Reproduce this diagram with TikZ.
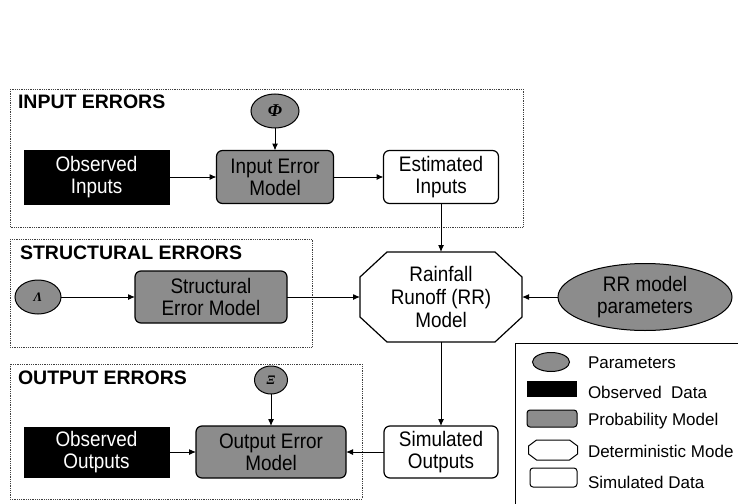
\documentclass[tikz,border=0pt]{standalone}
\usepackage{fontspec}
\setmainfont{Liberation Sans}
\newfontfamily\lblfont{Liberation Sans}[FakeStretch=0.9]
\newfontfamily\grk{Liberation Serif}
\usetikzlibrary{shapes.geometric,arrows.meta}
\definecolor{pgray}{RGB}{140,140,140}
\begin{document}
\begin{tikzpicture}[x=1pt,y=-1pt,
  every node/.style={outer sep=0pt, inner sep=0pt, align=center},
  lbl/.style={font=\lblfont\fontsize{21}{22}\selectfont},
  obsbox/.style={lbl, fill=black, text=white, draw=black, line width=1pt},
  probbox/.style={lbl, fill=pgray, draw=black, line width=1.2pt, rounded corners=6pt},
  simbox/.style={lbl, fill=white, draw=black, line width=1.2pt, rounded corners=6pt},
  parell/.style={ellipse, fill=pgray, draw=black, line width=1pt},
  errframe/.style={draw=black!75, line width=0.9pt, dash pattern=on 0.9pt off 0.9pt},
  ttl/.style={font=\fontsize{19.5}{22}\selectfont\bfseries, anchor=base west},
  arr/.style={-{Latex[length=7pt,width=6pt]}, line width=1pt},
  leg/.style={font=\fontsize{17}{18}\selectfont, anchor=west},
  octline/.style={draw=black, line width=1.2pt, fill=white}
]
\useasboundingbox (0,0) rectangle (738,503);
\clip (0,0) rectangle (738,503);
\fill[white] (0,0) rectangle (738,503);

% frames
\draw[errframe] (10,89) rectangle (523,227);
\draw[errframe] (10,239) rectangle (312,347);
\draw[errframe] (10,364) rectangle (362,499);
\node[ttl] (t1) at (18,108) {INPUT ERRORS};
\node[ttl] (t2) at (20,259) {STRUCTURAL ERRORS};
\node[ttl] (t3) at (18,384) {OUTPUT ERRORS};

% input errors
\node[obsbox, minimum width=145pt, minimum height=54pt] (obsin) at (96.5,177) {Observed\\Inputs};
\node[probbox, minimum width=117pt, minimum height=53pt] (iem) at (275,177) {Input Error\\Model};
\node[simbox, minimum width=115pt, minimum height=53pt] (estin) at (441,177) {Estimated\\Inputs};
\node[parell, minimum width=48pt, minimum height=34pt] (phi) at (275,111) {\grk\bfseries\itshape\fontsize{18}{18}\selectfont Φ};

% structural errors
\node[parell, minimum width=46pt, minimum height=34pt] (lam) at (38,297) {\grk\bfseries\itshape\fontsize{13}{13}\selectfont Λ};
\node[probbox, minimum width=152pt, minimum height=52pt] (sem) at (211,297) {Structural\\Error Model};

% RR model (octagon)
\node[minimum width=162pt, minimum height=90pt] (rrbg) at (441,297) {};
\path[octline] ([xshift=27pt]rrbg.north west) -- ([xshift=-27pt]rrbg.north east)
  -- ([yshift=-25pt]rrbg.north east) -- ([yshift=25pt]rrbg.south east)
  -- ([xshift=-27pt]rrbg.south east) -- ([xshift=27pt]rrbg.south west)
  -- ([yshift=25pt]rrbg.south west) -- ([yshift=-25pt]rrbg.north west) -- cycle;
\node[lbl, font=\lblfont\fontsize{21}{23}\selectfont, minimum width=162pt, minimum height=90pt] (rr) at (441,297) {Rainfall\\Runoff (RR)\\Model};
\node[parell, lbl, minimum width=174pt, minimum height=67pt] (rrp) at (645,297) {RR model\\parameters};

% output errors
\node[parell, minimum width=33pt, minimum height=28pt] (xi) at (271,380) {\grk\bfseries\itshape\fontsize{13}{13}\selectfont Ξ};
\node[obsbox, minimum width=145pt, minimum height=50pt] (obsout) at (96.5,452) {Observed\\Outputs};
\node[probbox, minimum width=150pt, minimum height=52pt] (oem) at (271,452) {Output Error\\Model};
\node[simbox, minimum width=114pt, minimum height=52pt] (simout) at (441,452) {Simulated\\Outputs};

% connectors
\draw[arr] (obsin.east) -- (obsin.east -| iem.west);
\draw[arr] (phi.south) -- (phi.south |- iem.north);
\draw[arr] (iem.east) -- (iem.east -| estin.west);
\draw[arr] (estin.south) -- (estin.south |- rr.north);
\draw[arr] (lam.east) -- (lam.east -| sem.west);
\draw[arr] (sem.east) -- (sem.east -| rr.west);
\draw[arr] (rrp.west) -- (rrp.west -| rr.east);
\draw[arr] (rr.south) -- (rr.south |- simout.north);
\draw[arr] (simout.west) -- (simout.west -| oem.east);
\draw[arr] (obsout.east) -- (obsout.east -| oem.west);
\draw[arr] (xi.south) -- (xi.south |- oem.north);

% legend
\draw[line width=1pt] (515,343) rectangle (760,520);
\node[parell, minimum width=37pt, minimum height=19pt] (lg1) at (551,362) {};
\node[fill=black, minimum width=50pt, minimum height=16pt] (lg2) at (552,389) {};
\node[fill=pgray, draw=black, line width=1pt, rounded corners=3pt, minimum width=50pt, minimum height=17pt] (lg3) at (552,418.5) {};
\node[minimum width=49pt, minimum height=20pt] (lg4) at (553,450) {};
\path[draw=black, line width=1pt, fill=white] ([xshift=8pt]lg4.north west) -- ([xshift=-8pt]lg4.north east)
  -- ([yshift=-6pt]lg4.north east) -- ([yshift=6pt]lg4.south east)
  -- ([xshift=-8pt]lg4.south east) -- ([xshift=8pt]lg4.south west)
  -- ([yshift=6pt]lg4.south west) -- ([yshift=-6pt]lg4.north west) -- cycle;
\node[fill=white, draw=black, line width=1pt, rounded corners=3pt, minimum width=47pt, minimum height=19pt] (lg5) at (553.5,477.5) {};
\node[leg] (lt1) at (588,363) {Parameters};
\node[leg] (lt2) at (588,392) {Observed\ \ Data};
\node[leg] (lt3) at (588,421) {Probability Model};
\node[leg] (lt4) at (588,451) {Deterministic Mode};
\node[leg] (lt5) at (588,482) {Simulated Data};
\end{tikzpicture}
\end{document}
